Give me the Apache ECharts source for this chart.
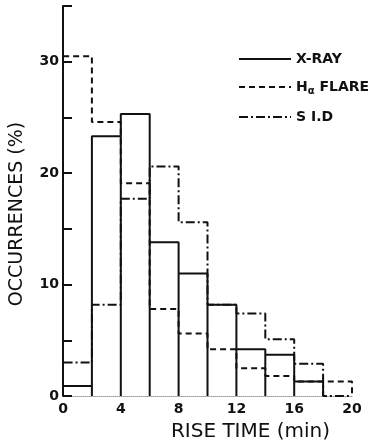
<!DOCTYPE html>
<html>
<head>
<meta charset="utf-8">
<script src="https://cdn.jsdelivr.net/npm/echarts@6/dist/echarts.min.js"></script>
<style>
  html, body { margin: 0; padding: 0; background: #fff; }
  #riseChart { width: 389px; height: 447px; }
</style>
</head>
<body>
<div id="riseChart"></div>
<script>
// rise time bins (min), 2 min wide
var binStart = [0, 2, 4, 6, 8, 10, 12, 14, 16, 18];
var binWidth = 2;
// occurrences (%) per bin
var xray   = [0.9, 23.3, 25.3, 13.8, 11.0, 8.2, 4.2, 3.7, 1.3, 0];
var halpha = [30.5, 24.6, 19.1, 7.8, 5.6, 4.2, 2.5, 1.8, 1.3, 1.3];
var sid    = [3.0, 8.2, 17.7, 20.6, 15.6, 8.2, 7.4, 5.1, 2.9, 0];
var yLabels = [0, 10, 20, 30];

var font = 'DejaVu Sans';

// full bar outline (every edge goes down to the base)
function barOutline(vals) {
  var pts = [];
  for (var i = 0; i < binStart.length; i++) {
    var x0 = binStart[i], x1 = binStart[i] + binWidth;
    if (!vals[i]) continue;
    pts.push([x0, 0], [x0, vals[i]], [x1, vals[i]], [x1, 0]);
  }
  return pts;
}
// step outline of a histogram
function stepOutline(vals) {
  var pts = [[binStart[0], 0]];
  for (var i = 0; i < binStart.length; i++) {
    pts.push([binStart[i], vals[i]], [binStart[i] + binWidth, vals[i]]);
  }
  pts.push([binStart[binStart.length - 1] + binWidth, 0]);
  return pts;
}

var myChart = echarts.init(document.getElementById('riseChart'));
var option = {
  backgroundColor: '#fff',
  animation: false,
  grid: { left: 62, right: 37, top: 6, bottom: 50 },
  legend: {
    orient: 'vertical',
    left: 238,
    top: 52,
    itemWidth: 52,
    itemHeight: 14,
    itemGap: 14,
    padding: 0,
    itemStyle: { opacity: 0 },
    data: ['X-RAY', 'H_ALPHA', 'S I.D'],
    formatter: function (name) {
      if (name == 'H_ALPHA') return 'H{sub|α} FLARE';
      return name;
    },
    textStyle: {
      fontFamily: font, fontSize: 14, fontWeight: 'bold', color: '#111',
      rich: {
        sub: { fontFamily: font, fontSize: 10, fontWeight: 'bold', color: '#111', padding: [8, 0, 0, 0] }
      }
    }
  },
  xAxis: {
    type: 'value',
    min: 0,
    max: 20,
    interval: 4,
    name: 'RISE TIME (min)',
    nameLocation: 'middle',
    nameGap: 26,
    nameTextStyle: { fontFamily: font, fontSize: 20, color: '#111', padding: [0, 0, 0, 86] },
    axisLine: { lineStyle: { color: '#999', width: 1, type: 'dotted' } },
    axisTick: { show: false },
    splitLine: { show: false },
    axisLabel: { fontFamily: font, fontSize: 14, fontWeight: 'bold', color: '#111', margin: 6 }
  },
  yAxis: {
    type: 'value',
    min: 0,
    max: 35,
    interval: 5,
    name: 'OCCURRENCES (%)',
    nameLocation: 'middle',
    nameGap: 36,
    nameTextStyle: { fontFamily: font, fontSize: 19, color: '#111', padding: [0, 26, 0, 0] },
    axisLine: { show: true, lineStyle: { color: '#111', width: 2 } },
    axisTick: { show: true, inside: true, length: 9, lineStyle: { color: '#111', width: 2 } },
    splitLine: { show: false },
    axisLabel: {
      fontFamily: font, fontSize: 14, fontWeight: 'bold', color: '#111', margin: 4,
      formatter: function (v) { return yLabels.indexOf(v) >= 0 ? String(v) : ''; }
    }
  },
  series: [
    {
      name: 'H_ALPHA',
      type: 'line',
      symbol: 'none',
      z: 2,
      data: stepOutline(halpha),
      itemStyle: { color: '#111' },
      lineStyle: { color: '#111', width: 2, type: [6, 4] }
    },
    {
      name: 'S I.D',
      type: 'line',
      symbol: 'none',
      z: 2,
      data: stepOutline(sid),
      itemStyle: { color: '#111' },
      lineStyle: { color: '#111', width: 2, type: [9, 3, 2, 3] }
    },
    {
      name: 'X-RAY',
      type: 'line',
      symbol: 'none',
      z: 3,
      data: barOutline(xray),
      itemStyle: { color: '#111' },
      lineStyle: { color: '#111', width: 2, type: 'solid' }
    }
  ]
};
myChart.setOption(option);
</script>
</body>
</html>
